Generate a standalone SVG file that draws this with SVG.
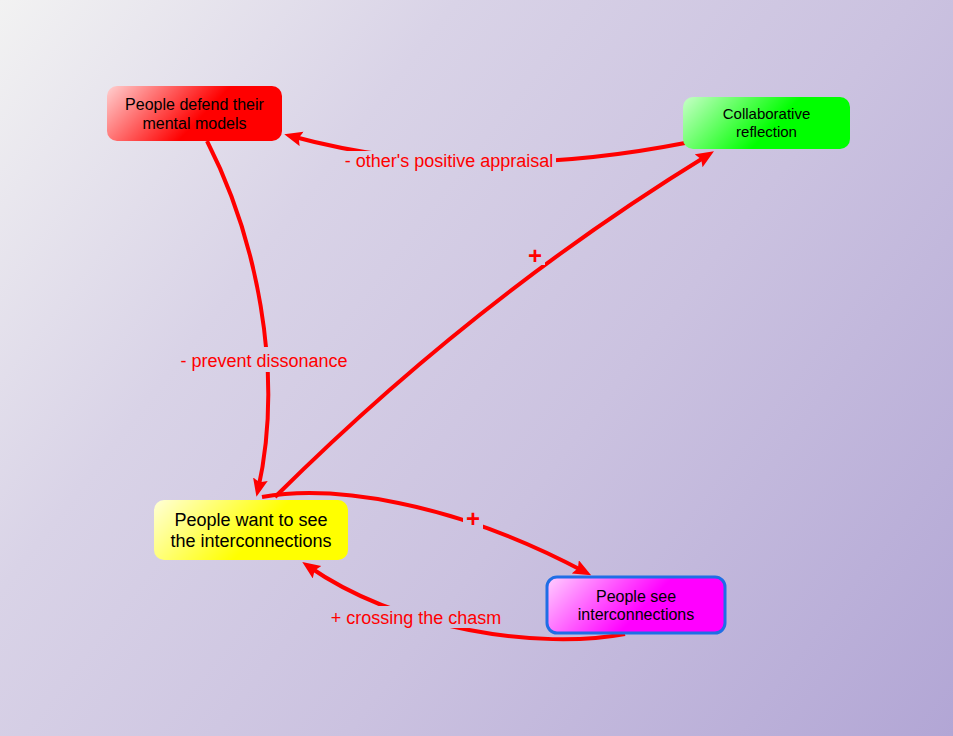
<svg xmlns="http://www.w3.org/2000/svg" width="953" height="736" viewBox="0 0 953 736">
<defs>
<linearGradient id="bg" gradientUnits="userSpaceOnUse" x1="0" y1="0" x2="953" y2="736">
<stop offset="0" stop-color="#f2f2f2"/>
<stop offset="0.3" stop-color="#d9d3e7"/>
<stop offset="0.6" stop-color="#cbc2e0"/>
<stop offset="1" stop-color="#b2a6d5"/>
</linearGradient>
<linearGradient id="gRed" x1="0" y1="0" x2="1" y2="0.3">
<stop offset="0" stop-color="#ffd0d0"/>
<stop offset="0.65" stop-color="#ff0000"/>
<stop offset="1" stop-color="#ff0000"/>
</linearGradient>
<linearGradient id="gGreen" x1="0" y1="0" x2="1" y2="0.3">
<stop offset="0" stop-color="#c8ffc8"/>
<stop offset="0.65" stop-color="#00ff00"/>
<stop offset="1" stop-color="#00ff00"/>
</linearGradient>
<linearGradient id="gYellow" x1="0" y1="0" x2="1" y2="0.3">
<stop offset="0" stop-color="#ffffd8"/>
<stop offset="0.65" stop-color="#ffff00"/>
<stop offset="1" stop-color="#ffff00"/>
</linearGradient>
<linearGradient id="gMag" x1="0" y1="0" x2="1" y2="0.3">
<stop offset="0" stop-color="#ffd0ff"/>
<stop offset="0.65" stop-color="#ff00ff"/>
<stop offset="1" stop-color="#ff00ff"/>
</linearGradient>
<marker id="arr" markerUnits="userSpaceOnUse" markerWidth="20" markerHeight="16" refX="11" refY="7.5" orient="auto">
<path d="M0,0 L18,7.5 L0,15 L3,7.5 z" fill="#ff0000"/>
</marker>
<style>
.node text{font-family:"Liberation Sans",Arial,sans-serif;fill:#000;text-anchor:middle}
.edge{fill:none;stroke:#ff0000;stroke-width:4;marker-end:url(#arr)}
.lbl{font-family:"Liberation Sans",Arial,sans-serif;font-size:18px;fill:#ff0000;text-anchor:middle}
.plus{font-family:"Liberation Sans",Arial,sans-serif;font-size:24px;font-weight:bold;fill:#ff0000;text-anchor:middle}
.gap{fill:url(#bg)}
</style>
</defs>
<rect x="0" y="0" width="953" height="736" fill="url(#bg)"/>
<g id="connectors">
<path class="edge" d="M685,143 Q470,185 291,136"/>
<path class="edge" d="M207,141 C255,235 285,370 258,490"/>
<path class="edge" d="M275,497 Q475,298 708,155"/>
<path class="edge" d="M262,497 C330,485 450,500 585,572"/>
<path class="edge" d="M625,634 C540,650 400,630 308,566"/>
<rect class="gap" x="343" y="151" width="213" height="20"/>
<text class="lbl" x="449" y="167">- other's positive appraisal</text>
<rect class="gap" x="180" y="347" width="170" height="25"/>
<text class="lbl" x="264" y="367">- prevent dissonance</text>
<rect class="gap" x="525" y="245" width="20" height="20"/>
<text class="plus" x="535" y="264">+</text>
<rect class="gap" x="463" y="508" width="20" height="22"/>
<text class="plus" x="473" y="527">+</text>
<rect class="gap" x="330" y="606" width="172" height="22"/>
<text class="lbl" x="416" y="624">+ crossing the chasm</text>
</g>
<g id="n1" class="node">
<rect x="107" y="86" width="175" height="55" rx="10" fill="url(#gRed)"/>
<text x="194.5" y="110" font-size="16">People defend their</text>
<text x="194.5" y="129" font-size="16">mental models</text>
</g>
<g id="n2" class="node">
<rect x="683" y="97" width="167" height="52" rx="10" fill="url(#gGreen)"/>
<text x="766.5" y="119" font-size="15">Collaborative</text>
<text x="766.5" y="137" font-size="15">reflection</text>
</g>
<g id="n3" class="node">
<rect x="154" y="500" width="194" height="60" rx="10" fill="url(#gYellow)"/>
<text x="251" y="526" font-size="18">People want to see</text>
<text x="251" y="547" font-size="18">the interconnections</text>
</g>
<g id="n4" class="node">
<rect x="547" y="577" width="178" height="56" rx="10" fill="url(#gMag)" stroke="#1f6ee6" stroke-width="3"/>
<text x="636" y="602" font-size="16">People see</text>
<text x="636" y="620" font-size="16">interconnections</text>
</g>
</svg>
